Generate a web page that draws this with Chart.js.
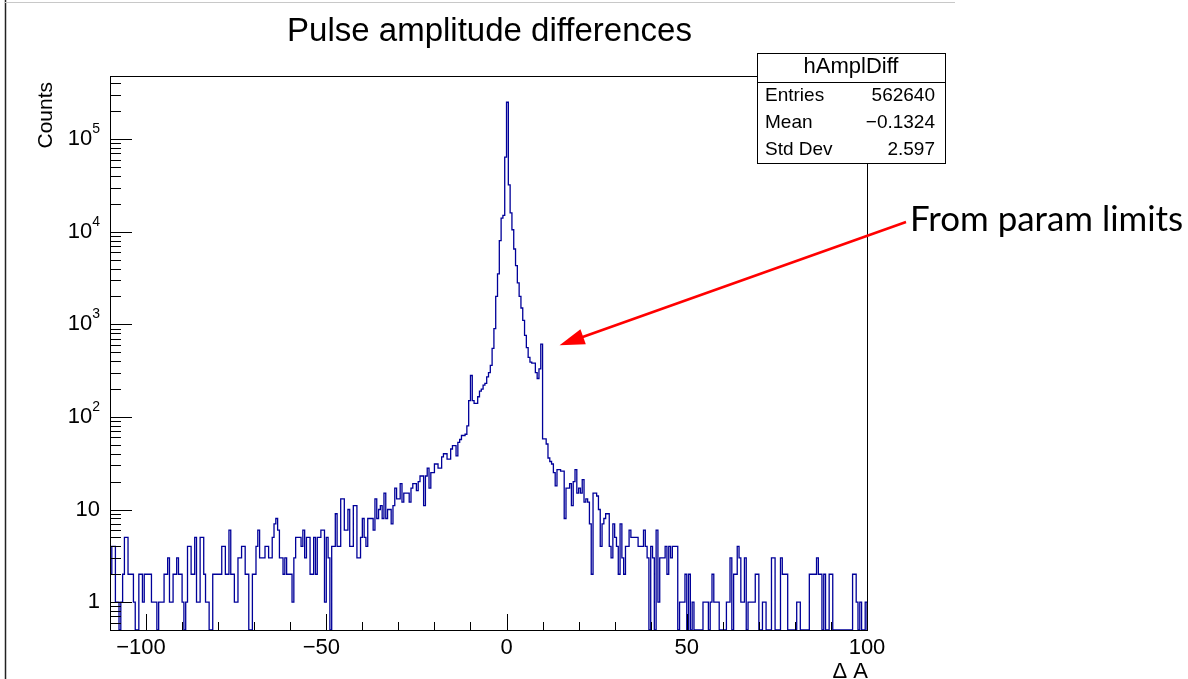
<!DOCTYPE html>
<html>
<head>
<meta charset="utf-8">
<title>Pulse amplitude differences</title>
<script src="https://cdn.jsdelivr.net/npm/chart.js@4.4.1/dist/chart.umd.min.js"></script>
<style>
  html, body { margin: 0; padding: 0; background: #fff; }
  canvas { display: block; }
</style>
</head>
<body>
<canvas id="hist" width="1188" height="679"></canvas>
<script>
// histogram binning (hAmplDiff): 420 bins of 0.5 from -110 to 100
const xMin = -110;
const xMax = 100;
const binWidth = 0.5;
const yMin = 0.5;
const yMax = 4.8e5;

// bin contents, left to right
const countsLeftTail = [
  2, 4, 4, 1, 1, 0, 1, 2, 5, 5,
  2, 2, 2, 1, 0, 0, 2, 2, 1, 2,
  2, 2, 2, 1, 1, 1, 0, 1, 1, 1,
  2, 2, 3, 1, 1, 2, 2, 3, 2, 2,
  1, 0, 1, 4, 4, 2, 2, 5, 1, 1,
  5, 5, 2, 1, 1, 0, 0, 2, 2, 2,
  2, 2, 4, 4, 2, 2, 6, 2, 2, 1,
  1, 3, 3, 4, 4, 2, 2, 0, 0, 2,
  2, 4, 6, 3, 3, 3, 4, 4, 3, 3,
  5, 7, 8, 6, 3, 3, 2, 3, 2, 2,
  2, 1, 3, 5, 5, 5, 4, 6, 3, 5,
  5, 2, 2, 5, 2, 5, 5, 6, 6, 1,
  5, 3, 0, 4, 4, 9, 4, 4, 13, 13,
  6, 6, 10, 4, 4, 11
];
const countsRise = [
  11, 3, 3, 5, 8, 5, 4, 8, 8, 8,
  6, 13, 8, 10, 11, 8, 15, 8, 10, 10,
  7, 11, 17, 13, 13, 19, 12, 15, 15, 15,
  12, 17, 19, 19, 16, 20, 23, 23, 11, 23,
  28, 17, 25, 25, 31, 31, 28, 28, 37, 40,
  40, 35, 35, 45, 49, 49, 38, 53, 57, 63,
  63, 65, 80, 150
];
const countsCore = [
  280, 150, 140, 140, 165, 190, 200, 220, 230, 270,
  300, 360, 550, 900, 2000, 3500, 8000, 14000, 15000, 64000,
  250000, 32000, 16000, 10500, 6500, 4300, 2800, 2000, 1500, 1100,
  760, 560, 440, 390, 380, 380, 300, 260, 330, 610
];
const countsFall = [
  58, 58, 51, 36, 33, 31, 25, 18, 27, 27,
  26, 26, 8, 17, 17, 19, 11, 20, 27, 15,
  17, 15, 21, 12, 13, 12, 7, 2, 15, 15,
  14, 10, 4, 7, 8, 9, 9, 4, 3, 7,
  5, 4, 2, 7, 3, 2, 4, 4, 6, 5,
  5, 5, 5, 4, 4, 4, 6, 4, 3, 0,
  4, 3, 0, 6, 1, 3, 3, 3, 4, 2,
  4
];
const countsRightTail = [
  3, 4, 4, 4, 0, 1, 1, 1, 2,
  0, 2, 0, 1, 0, 0, 0, 0, 0, 1,
  1, 1, 0, 1, 2, 1, 1, 1, 0, 0,
  0, 0, 1, 1, 3, 0, 2, 2, 4, 3,
  1, 1, 3, 0, 1, 1, 1, 1, 2, 2,
  0, 0, 1, 1, 0, 0, 0, 3, 3, 0,
  0, 0, 3, 2, 2, 2, 0, 0, 0, 0,
  0, 1, 1, 0, 0, 0, 0, 0, 2, 2,
  2, 2, 3, 2, 2, 0, 2, 0, 0, 2,
  2, 0, 0, 0, 0, 0, 0, 0, 0, 0,
  0, 0, 2, 2, 1, 0, 1, 0, 0, 1
];

// axis ticks and labels
const xTickValues = [-100, -50, 0, 50, 100];
const xTickLabels = ['\u2212100', '\u221250', '0', '50', '100'];
const yDecades = [0, 1, 2, 3, 4, 5];

// stats box
const statsName = 'hAmplDiff';
const statsLabels = ['Entries', 'Mean', 'Std Dev'];
const statsValues = ['562640', '\u22120.1324', '2.597'];

const titleText = 'Pulse amplitude differences';
const noteText = 'From param limits';
const noteBin = 239; // the bin the arrow points at

const ROOT_FONT = '"Liberation Sans", Arial, Helvetica, sans-serif';

// build the step outline, zero bins sit on the frame bottom like in ROOT
const counts = [].concat(countsLeftTail, countsRise, countsCore, countsFall, countsRightTail);
const points = [{ x: xMin, y: yMin }];
counts.forEach((c, i) => {
    points.push({ x: xMin + i * binWidth, y: c > 0 ? c : yMin });
});
points.push({ x: xMax, y: counts[counts.length - 1] > 0 ? counts[counts.length - 1] : yMin });
points.push({ x: xMax, y: yMin });

const crisp = v => Math.round(v) + 0.5;

const rootStyle = {
    id: 'rootStyle',
    beforeDraw(chart) {
        const ctx = chart.ctx;
        ctx.save();
        ctx.fillStyle = '#fff';
        ctx.fillRect(0, 0, chart.width, chart.height);
        ctx.restore();
    },
    afterDraw(chart) {
        const { ctx, chartArea: a, scales: { x, y } } = chart;
        ctx.save();

        // slide border round the pasted plot
        ctx.strokeStyle = '#222';
        ctx.lineWidth = 1.5;
        ctx.beginPath();
        ctx.moveTo(5.5, 0);
        ctx.lineTo(5.5, chart.height);
        ctx.stroke();
        ctx.strokeStyle = '#c8c8c8';
        ctx.lineWidth = 1;
        ctx.beginPath();
        ctx.moveTo(5, 2.5);
        ctx.lineTo(955, 2.5);
        ctx.stroke();

        // frame
        ctx.strokeStyle = '#000';
        ctx.lineWidth = 1;
        ctx.strokeRect(crisp(a.left), crisp(a.top), Math.round(a.right - a.left), Math.round(a.bottom - a.top));

        // x ticks, inside the frame
        ctx.beginPath();
        for (let v = xMin; v <= xMax; v += 10) {
            const px = crisp(x.getPixelForValue(v));
            const len = v % 50 === 0 ? 16 : 8;
            ctx.moveTo(px, a.bottom);
            ctx.lineTo(px, a.bottom - len);
        }
        // y ticks, log decades and 2..9 sub ticks
        for (let d = -1; d <= 5; d++) {
            for (let m = 1; m <= 9; m++) {
                const v = m * Math.pow(10, d);
                if (v < yMin || v > yMax) continue;
                const py = crisp(y.getPixelForValue(v));
                const len = m === 1 ? 22 : 11;
                ctx.moveTo(a.left, py);
                ctx.lineTo(a.left + len, py);
            }
        }
        ctx.stroke();

        ctx.fillStyle = '#000';

        // x labels (ROOT's long minus pushes negative labels a little left)
        ctx.font = '22px ' + ROOT_FONT;
        ctx.textAlign = 'center';
        ctx.textBaseline = 'alphabetic';
        xTickValues.forEach((v, i) => {
            const shift = v < 0 ? -5 : 0;
            ctx.fillText(xTickLabels[i], x.getPixelForValue(v) + shift, 654);
        });

        // y labels with superscript exponents
        const xr = a.left - 10;
        yDecades.forEach(d => {
            const py = y.getPixelForValue(Math.pow(10, d));
            ctx.textAlign = 'right';
            ctx.textBaseline = 'middle';
            if (d < 2) {
                ctx.font = '22px ' + ROOT_FONT;
                ctx.fillText(d === 0 ? '1' : '10', xr, py);
            } else {
                ctx.font = '14px ' + ROOT_FONT;
                const sup = String(d);
                const sw = ctx.measureText(sup).width;
                ctx.fillText(sup, xr, py - 10);
                ctx.font = '22px ' + ROOT_FONT;
                ctx.fillText('10', xr - sw, py);
            }
        });

        // axis titles
        ctx.font = '22px ' + ROOT_FONT;
        ctx.textAlign = 'right';
        ctx.textBaseline = 'alphabetic';
        ctx.fillText('\u0394 A', a.right + 1, 678);

        ctx.save();
        ctx.translate(52, a.top + 6);
        ctx.rotate(-Math.PI / 2);
        ctx.font = '21px ' + ROOT_FONT;
        ctx.textAlign = 'right';
        ctx.fillText('Counts', 0, 0);
        ctx.restore();

        // title
        ctx.font = '33px ' + ROOT_FONT;
        ctx.textAlign = 'center';
        ctx.fillText(titleText, (a.left + a.right) / 2 + 1, 41);

        // stats box
        const bx = 757, by = 53, bw = 188, bh = 110, hh = 29;
        ctx.fillStyle = '#fff';
        ctx.fillRect(bx, by, bw, bh);
        ctx.strokeStyle = '#000';
        ctx.lineWidth = 1;
        ctx.strokeRect(bx + 0.5, by + 0.5, bw, bh);
        ctx.beginPath();
        ctx.moveTo(bx, by + hh + 0.5);
        ctx.lineTo(bx + bw, by + hh + 0.5);
        ctx.stroke();
        ctx.fillStyle = '#000';
        ctx.font = '22px ' + ROOT_FONT;
        ctx.textAlign = 'center';
        ctx.textBaseline = 'middle';
        ctx.fillText(statsName, bx + bw / 2, by + 14);
        ctx.font = '19px ' + ROOT_FONT;
        statsLabels.forEach((lab, i) => {
            const ty = by + 43 + i * 27;
            ctx.textAlign = 'left';
            ctx.fillText(lab, bx + 8, ty);
            ctx.textAlign = 'right';
            ctx.fillText(statsValues[i], bx + bw - 10, ty);
        });

        // annotation arrow to the param-limit spike
        const tipX = x.getPixelForValue(xMin + (noteBin + 1) * binWidth) + 17;
        const tipY = y.getPixelForValue(counts[noteBin]) + 1;
        const startX = 906, startY = 222;
        const dx = tipX - startX, dy = tipY - startY;
        const L = Math.hypot(dx, dy);
        const ux = dx / L, uy = dy / L;
        const headLen = 25, headHalf = 8;
        const baseX = tipX - ux * headLen, baseY = tipY - uy * headLen;
        ctx.strokeStyle = '#ff0000';
        ctx.lineWidth = 2.5;
        ctx.beginPath();
        ctx.moveTo(startX, startY);
        ctx.lineTo(baseX + ux * 2, baseY + uy * 2);
        ctx.stroke();
        ctx.fillStyle = '#ff0000';
        ctx.beginPath();
        ctx.moveTo(tipX, tipY);
        ctx.lineTo(baseX - uy * headHalf, baseY + ux * headHalf);
        ctx.lineTo(baseX + uy * headHalf, baseY - ux * headHalf);
        ctx.closePath();
        ctx.fill();

        // annotation text, sized to the slide text box
        ctx.fillStyle = '#000';
        ctx.textAlign = 'left';
        ctx.textBaseline = 'alphabetic';
        ctx.font = '28px Lato, "Open Sans", sans-serif';
        const w28 = ctx.measureText(noteText).width;
        const fs = 28 * 273 / w28;
        ctx.font = fs.toFixed(1) + 'px Lato, "Open Sans", sans-serif';
        ctx.fillText(noteText, 910, 231);

        ctx.restore();
    }
};

new Chart(document.getElementById('hist'), {
    type: 'line',
    data: {
        datasets: [{
            label: statsName,
            data: points,
            borderColor: '#000099',
            borderWidth: 1.3,
            stepped: true,
            pointRadius: 0,
            fill: false,
            tension: 0
        }]
    },
    options: {
        responsive: false,
        animation: false,
        devicePixelRatio: 1,
        events: [],
        layout: { padding: { left: 110, top: 76, right: 321, bottom: 49 } },
        scales: {
            x: { type: 'linear', min: xMin, max: xMax, display: false },
            y: { type: 'logarithmic', min: yMin, max: yMax, display: false }
        },
        plugins: {
            legend: { display: false },
            tooltip: { enabled: false },
            title: { display: false }
        }
    },
    plugins: [rootStyle]
});
</script>
</body>
</html>
